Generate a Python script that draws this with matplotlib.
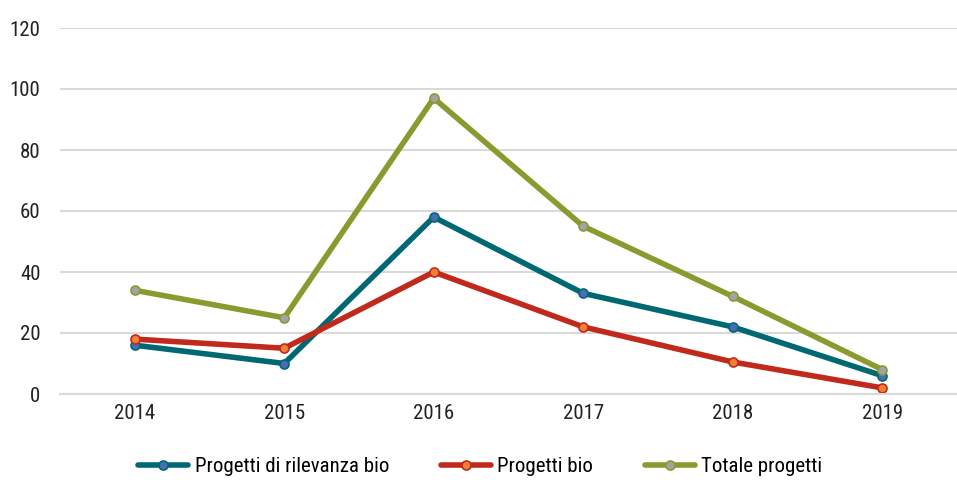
import matplotlib
matplotlib.use("Agg")
import matplotlib.pyplot as plt
from matplotlib import font_manager

years = ["2014", "2015", "2016", "2017", "2018", "2019"]
rilevanza = [16, 10, 58, 33, 22, 6]
bio = [18, 15, 40, 22, 10.5, 2]
totale = [34, 25, 97, 55, 32, 8]
series_names = ["Progetti di rilevanza bio", "Progetti bio", "Totale progetti"]
yticks = [0, 20, 40, 60, 80, 100, 120]

# pick a condensed font if one is available
fam, stretch, fs = "DejaVu Sans", "normal", 13
cands = [f for f in font_manager.fontManager.ttflist]
names = {f.name for f in cands}
for n in ["Roboto Condensed", "Open Sans Condensed", "Liberation Sans Narrow", "Noto Sans Condensed"]:
    if n in names:
        fam, stretch, fs = n, "normal", 15
        break
else:
    for f in cands:
        if f.name in ("DejaVu Sans", "Noto Sans", "Roboto", "Open Sans", "Inter") and \
                str(f.stretch) in ("condensed", "semi-condensed", "extra-condensed", "500", "600", "700") \
                and f.style == "normal" and f.weight in (400, "normal", "regular"):
            fam, stretch, fs = f.name, f.stretch, 15
            break
plt.rcParams['font.family'] = [fam, 'DejaVu Sans']
plt.rcParams['font.stretch'] = stretch

fig = plt.figure(figsize=(9.57, 4.8), dpi=100)
ax = fig.add_axes([60/957, 1-394/480, 897/957, 366/480])

x = list(range(len(years)))
styles = [
    (rilevanza, "#006872", "#4a6cb5"),
    (bio, "#c0291b", "#ef8133"),
    (totale, "#8a9a2f", "#a3a3a3"),
]
for (vals, lc, fc), name in zip(styles, series_names):
    ax.plot(x, vals, color=lc, lw=4, marker='o', markersize=6.5,
            markerfacecolor=fc, markeredgecolor=lc, markeredgewidth=1.2,
            label=name, solid_capstyle='round', solid_joinstyle='round')

ax.set_xlim(-0.5, len(years) - 0.5)
ax.set_ylim(0, 120)
ax.set_yticks(yticks)
ax.set_xticks(x)
ax.set_xticklabels(years)
ax.grid(axis='y', color='#d9d9d9', lw=1.5)
ax.set_axisbelow(True)
for s in ['top', 'right', 'left']:
    ax.spines[s].set_visible(False)
ax.spines['bottom'].set_color('#d9d9d9')
ax.spines['bottom'].set_linewidth(1.5)
ax.tick_params(axis='both', length=0, labelsize=fs, colors='#222222')
ax.tick_params(axis='y', pad=14)
ax.tick_params(axis='x', pad=7)

leg = fig.legend(loc='center', bbox_to_anchor=(0.502, 1-467/480), ncol=3,
                 frameon=False, fontsize=fs, handlelength=2.4, columnspacing=2.5,
                 handletextpad=0.3, borderaxespad=0, borderpad=0)
fig.savefig("out.png", dpi=100)
